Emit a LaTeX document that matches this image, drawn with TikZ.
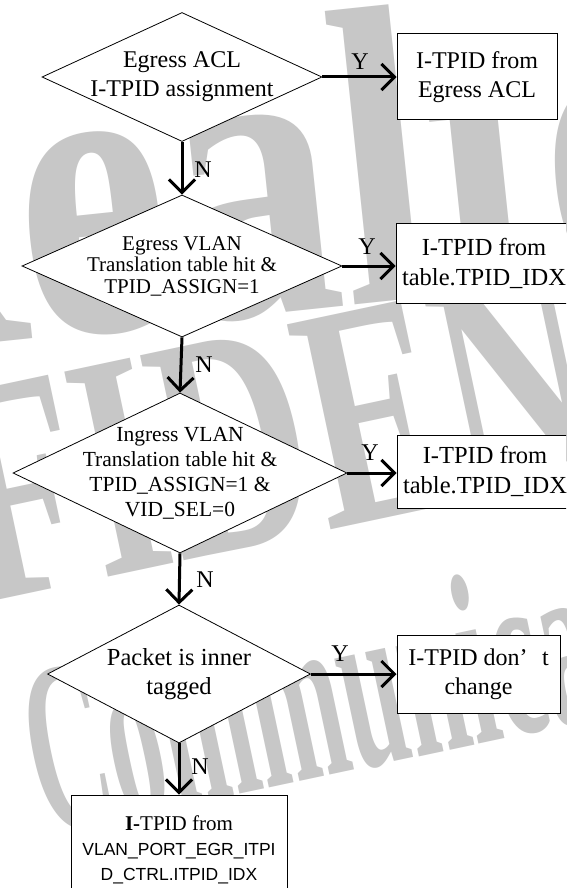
\documentclass[tikz,border=0pt]{standalone}
\usepackage{fontspec}
\setmainfont{Liberation Serif}
\newfontfamily\arialfam{Liberation Sans}
\usetikzlibrary{arrows.meta,shapes.geometric}
\newcommand{\fsz}[2]{\fontsize{#1}{#2}\selectfont}

\begin{document}
\begin{tikzpicture}[x=1pt,y=-1pt,
  decision/.style={draw, diamond, fill=white, inner sep=0pt, line width=0.8pt},
  txt/.style={align=center, inner sep=0pt},
  proc/.style={draw, rectangle, fill=white, line width=1pt, inner sep=0pt, align=center},
  flow/.style={line width=3pt, -{Straight Barb[length=13pt,width=26pt]}},
  yn/.style={font=\fsz{24}{24}, inner sep=0pt},
  wm/.style={text=black!22, font=\bfseries\fsz{#1}{#1}, inner sep=0pt, anchor=base west}]

\useasboundingbox (0,0) rectangle (566,888);
\clip (0,0) rectangle (566,888);
\fill[white] (0,0) rectangle (566,888);

% background watermark lettering
\node[wm=425, rotate=6, xscale=0.8] (wm1) at (-215,365) {Realtek};
\node[wm=320, rotate=12, xscale=0.65] (wm2) at (-475,701) {CONFIDENTIAL};
\node[wm=245, rotate=12, xscale=0.45] (wm3) at (45,836) {Communications};

% decisions and their texts
\node[decision, minimum width=280, minimum height=129] (d1) at (182,77) {};
\node[txt, font=\fsz{24}{29}] (d1t) at (d1) {Egress ACL\\I-TPID assignment};

\node[decision, minimum width=320, minimum height=142] (d2) at (182,266) {};
\node[txt, font=\fsz{21}{21.5}] (d2t) at (d2) {Egress VLAN\\Translation table hit \&\\TPID\_ASSIGN=1};

\node[decision, minimum width=334, minimum height=160] (d3) at (180,473) {};
\node[txt, font=\fsz{21.5}{25}] (d3t) at (d3) {Ingress VLAN\\Translation table hit \&\\TPID\_ASSIGN=1 \&\\VID\_SEL=0};

\node[decision, minimum width=263, minimum height=138] (d4) at (179,674) {};
\node[txt, font=\fsz{24.5}{29}] (d4t) at (d4) {Packet is inner\\tagged};

% result boxes
\node[proc, minimum width=160, minimum height=86, font=\fsz{24}{29}] (b1) at (477,77) {I-TPID from\\Egress ACL};
\node[proc, minimum width=176, minimum height=80, font=\fsz{24.5}{30}] (b2) at (484,263) {I-TPID from\\table.TPID\_IDX};
\node[proc, minimum width=176, minimum height=73, font=\fsz{24.5}{30}] (b3) at (485,471.5) {I-TPID from\\table.TPID\_IDX};
\node[proc, minimum width=163, minimum height=78, font=\fsz{24}{29}] (b4) at (478.5,674) {I-TPID don’\hspace{0.6em}t\\change};
\node[proc, minimum width=216, minimum height=110, font=\fsz{21}{25}] (b5) at (179,850)
  {\textbf{I-}TPID from\\{\arialfam\fsz{17.5}{25}VLAN\_PORT\_EGR\_ITPI}\\{\arialfam\fsz{17.5}{25}D\_CTRL.ITPID\_IDX}};

% connectors
\draw[flow] (d1.east) -- (b1.west);
\draw[flow] (d1.south) -- (d2.north);
\draw[flow] (d2.east) -- (d2.east -| b2.west);
\draw[flow] (d2.south) -- (d3.north);
\draw[flow] (d3.east) -- (d3.east -| b3.west);
\draw[flow] (d3.south) -- (d4.north);
\draw[flow] (d4.east) -- (b4.west);
\draw[flow] (d4.south) -- (b5.north);

% branch labels
\node[yn] (y1) at (360,62) {Y};
\node[yn] (y2) at (367,247) {Y};
\node[yn] (y3) at (370,453) {Y};
\node[yn] (y4) at (340,654) {Y};
\node[yn] (n1) at (203,170) {N};
\node[yn] (n2) at (204,365) {N};
\node[yn] (n3) at (205,580) {N};
\node[yn] (n4) at (200,767) {N};
\end{tikzpicture}
\end{document}
